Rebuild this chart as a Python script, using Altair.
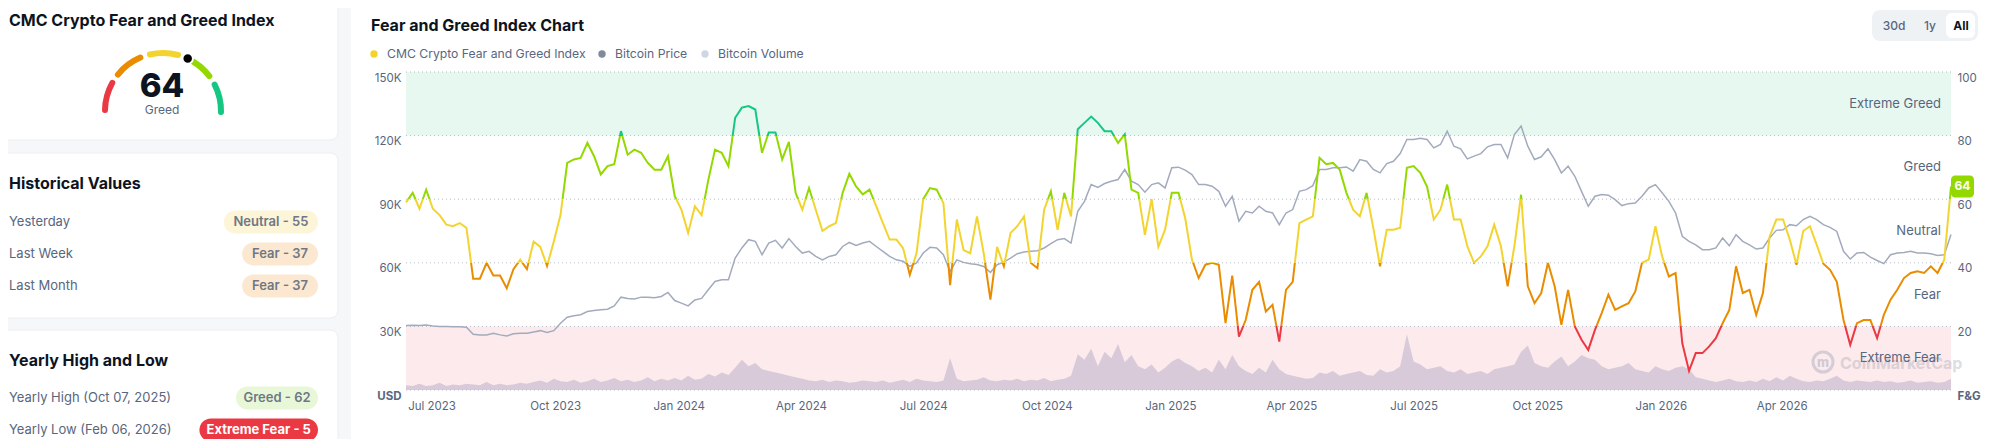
import math
import altair as alt
import pandas as pd

FONT = "Inter"
DARK = "#0d1421"
GRAY = "#58667e"
C_EF, C_F, C_N, C_G, C_EG = "#ea3943", "#ea8c00", "#f3d42f", "#93d900", "#16c784"

# ---------------- data ----------------
start_date = "2023-06-12"
step_days = 5

fg_values = [
    59, 62, 57, 63, 57, 55, 52, 51.5, 52.5, 51,
    35, 35, 40, 36, 36, 32, 38, 41, 38, 46.7,
    45, 39, 46.7, 55, 71.4, 72.5, 73, 77.7, 73.5, 67.8,
    70.4, 71, 81.4, 74, 75.6, 74.6, 71.4, 69.3, 69.3, 73.5,
    61, 56.7, 49.4, 57.8, 55, 66, 75.6, 74.6, 70.4, 85.6,
    88.8, 89.3, 88.2, 74.6, 81, 81, 72.5, 78, 62, 56.7,
    63.5, 56.7, 50, 51.5, 52.5, 62, 68, 64, 61.5, 63,
    57.8, 52.5, 47.3, 47.3, 44.6, 36.2, 43, 60, 63.5, 63,
    58.8, 33, 53.6, 44, 43, 54.6, 43, 28.4, 45, 38.9,
    49.4, 51.5, 54.6, 40, 38.3, 56.7, 62.5, 50.4, 62, 54.6,
    82, 84, 86, 84, 81.4, 81.4, 77.7, 80.4, 63, 62,
    48.8, 60, 45, 50.4, 62, 62, 54, 41, 35.2, 39.4,
    40, 39.4, 21, 36, 16.8, 22, 31.5, 34, 24.7, 26.8,
    15.2, 31.5, 34, 52.5, 53.6, 54.6, 73, 71, 71.4, 69.3,
    62, 56.7, 54.6, 62, 51, 38.9, 50.4, 50.4, 51, 69.9,
    70.4, 68.3, 64, 53.6, 56.7, 64.6, 53.6, 53.6, 45.2, 40,
    42, 45.2, 52, 45.2, 32.6, 45.2, 61.4, 32.6, 27.3, 30.5,
    40, 32.6, 20.5, 31.5, 20, 15.8, 12.6, 18.9, 24.2, 30,
    25.2, 26.3, 27.3, 31, 40, 41, 51.5, 42, 35.7, 36.8,
    14.7, 6, 11.6, 11.6, 13.7, 16.3, 21, 25.2, 38.9, 30.5,
    31.5, 23.6, 30.5, 48.3, 53.6, 53.6, 47.3, 39.4, 50, 51.5,
    45.7, 39.7, 37.8, 34, 22, 14.2, 21, 22, 22, 16.3,
    23.6, 28.4, 31.5, 35.2, 36.8, 37.3, 36.8, 38.9, 36.8, 41,
    64,
]

btc_price_k = [
    30.4, 30.6, 30.4, 30.7, 30.2, 29.9, 29.9, 29.8, 29.8, 29.6,
    26.3, 26, 26, 26.8, 26, 25.5, 26.5, 26.8, 26.8, 27.4,
    28, 27.1, 28, 31.5, 34.3, 35, 35.5, 37, 37.5, 37.8,
    38.1, 39.7, 43.8, 43.2, 42.9, 43.8, 43.8, 43.5, 44.1, 46,
    42.2, 41, 39.7, 42.5, 43.2, 47.3, 51.2, 52, 52, 62.2,
    67, 70.9, 70.1, 63.8, 69.3, 70.6, 67, 71.4, 67.7, 64.6,
    65.4, 63, 61.4, 63, 63.8, 67.7, 69.6, 68.2, 69.3, 70.1,
    67.7, 65.4, 63, 61.4, 60.7, 58.3, 59.9, 64.6, 67.3, 67,
    63.8, 55.9, 61.4, 60.2, 59.6, 59.2, 58.3, 55.5, 59.1, 60.3,
    62.2, 64.3, 65.1, 65.4, 65.7, 67, 69, 70.9, 71.4, 69.3,
    84.3, 89, 96.9, 95.6, 97.4, 98.5, 99.3, 104, 98.5, 96.9,
    93.3, 96.9, 97.7, 95.3, 104.8, 105.1, 103.7, 101.6, 96.9, 96.9,
    96.1, 93.7, 86.7, 91.4, 79.6, 84.3, 83.5, 86.7, 84.3, 83.5,
    78, 83.5, 85.1, 93.7, 94.5, 96.4, 104, 104, 104.8, 104.8,
    105.2, 103.2, 108.7, 107.9, 104, 102.4, 106.8, 107.9, 111.5, 118.2,
    118.2, 118.8, 118.2, 114.2, 115.8, 122.1, 115, 113.8, 109, 110.3,
    111.5, 114.7, 115.8, 115.8, 109.5, 120.5, 124.5, 115, 108.7, 110,
    113.8, 108.7, 102.4, 105.6, 100.8, 93.7, 86.7, 91.4, 92.2, 91.9,
    89.8, 87, 87.9, 88.2, 91.4, 95.3, 96.9, 93, 89, 83.5,
    72.5, 70.1, 68.5, 66.2, 66.2, 67, 71.7, 68, 73.3, 70.1,
    68.5, 66.5, 67, 71.7, 75.3, 75.6, 78, 77.5, 80.4, 81.9,
    80.4, 78, 76.7, 74.8, 65.4, 61.8, 64.6, 64.9, 62.7, 61.1,
    59.6, 63.8, 64.6, 64.9, 65.4, 64.6, 64.6, 64.3, 63.5, 63.8,
    73.3,
]

btc_volume_b = [
    6, 5, 8, 5, 6, 9, 5, 7, 6, 8,
    7, 6, 10, 6, 8, 6, 7, 9, 8, 10,
    12, 9, 14, 11, 10, 13, 9, 11, 14, 10,
    12, 15, 11, 13, 10, 12, 16, 11, 14, 12,
    15, 12, 18, 13, 14, 20, 17, 22, 19, 28,
    38, 30, 34, 26, 24, 22, 20, 18, 16, 14,
    12, 11, 13, 10, 12, 11, 9, 10, 12, 11,
    10, 12, 9, 11, 13, 10, 14, 12, 11, 10,
    12, 40, 14, 11, 12, 13, 16, 12, 11, 13,
    12, 14, 11, 13, 12, 15, 11, 13, 14, 18,
    45, 38, 52, 30, 48, 40, 58, 35, 44, 30,
    26, 32, 22, 28, 36, 40, 34, 30, 24, 28,
    22, 38, 26, 44, 30, 24, 20, 28, 22, 38,
    26, 20, 18, 16, 14, 15, 22, 20, 24, 18,
    20, 22, 24, 19, 18, 26, 22, 24, 30, 70,
    36, 32, 26, 28, 30, 24, 22, 26, 20, 22,
    24, 20, 26, 28, 30, 32, 48, 56, 34, 30,
    28, 36, 42, 30, 36, 44, 40, 38, 30, 26,
    28, 30, 34, 26, 24, 22, 30, 26, 24, 28,
    30, 26, 16, 14, 12, 10, 12, 14, 11, 10,
    12, 10, 14, 11, 16, 12, 18, 14, 11, 10,
    12, 11, 14, 18, 12, 10, 12, 11, 10, 12,
    10, 11, 9, 10, 12, 9, 10, 11, 9, 10,
    14,
]

x_tick_months = [(2023, 7), (2023, 10), (2024, 1), (2024, 4), (2024, 7), (2024, 10),
                 (2025, 1), (2025, 4), (2025, 7), (2025, 10), (2026, 1), (2026, 4)]
zone_names = ["Extreme Greed", "Greed", "Neutral", "Fear", "Extreme Fear"]
zone_mids = [90, 70, 50, 30, 10]
grid_levels = [0, 20, 40, 60, 80, 100]
price_ticks = [0, 30, 60, 90, 120, 150]

current_value = 64
current_class = "Greed"
hist_labels = ["Yesterday", "Last Week", "Last Month"]
hist_class = ["Neutral", "Fear", "Fear"]
hist_vals = [55, 37, 37]
year_labels = ["Yearly High (Oct 07, 2025)", "Yearly Low (Feb 06, 2026)"]
year_class = ["Greed", "Extreme Fear"]
year_vals = [62, 5]
legend_names = ["CMC Crypto Fear and Greed Index", "Bitcoin Price", "Bitcoin Volume"]
legend_colors = ["#f3d42f", "#808a9d", "#cfd6e4"]
range_buttons = ["30d", "1y", "All"]

# ---------------- frame ----------------
n = min(len(fg_values), len(btc_price_k), len(btc_volume_b))
dates = pd.date_range(start_date, periods=n, freq=f"{step_days}D")
df = pd.DataFrame({"date": dates, "fg": fg_values[:n], "price": btc_price_k[:n], "vol": btc_volume_b[:n]})
first, last = dates[0], dates[-1]

W, H = 1545, 318
PX, PY = 406, 72  # page position of the plot area's top-left corner


def rel(xp, yp):
    return dict(x=alt.value(xp - PX), y=alt.value(yp - PY))


def text_layer(s, xp, yp, size=13, color=GRAY, weight=400, align="left", baseline="middle", opacity=1.0):
    return alt.Chart(pd.DataFrame({"t": [s]})).mark_text(
        align=align, baseline=baseline, font=FONT, fontSize=size, fontWeight=weight,
        color=color, opacity=opacity
    ).encode(text="t:N", **rel(xp, yp))


def rect_layer(x1, y1, x2, y2, fill, radius=0, stroke=None):
    kw = dict(fill=fill, cornerRadius=radius)
    if stroke:
        kw.update(stroke=stroke, strokeWidth=1)
    return alt.Chart(pd.DataFrame({"a": [0]})).mark_rect(**kw).encode(
        x=alt.value(x1 - PX), x2=alt.value(x2 - PX), y=alt.value(y1 - PY), y2=alt.value(y2 - PY)
    )


BADGE_FILL = {"Extreme Fear": C_EF, "Fear": "#fce8d0", "Neutral": "#fdf5d8", "Greed": "#e8f7d8", "Extreme Greed": "#dff6ea"}


def badge(cls, val, yc, right=318):
    s = f"{cls} - {val}"
    w = 6.1 * len(s) + 21
    tc = "white" if cls == "Extreme Fear" else "#6f7787"
    wt = 700 if cls == "Extreme Fear" else 600
    return [rect_layer(right - w, yc - 11.5, right, yc + 11.5, BADGE_FILL[cls], radius=11.5),
            text_layer(s, right - w / 2, yc, size=13, color=tc, weight=wt, align="center")]


layers = []
# page background of left column + cards
layers.append(rect_layer(0, 0, 351, 460, "#f6f7f9"))
layers.append(rect_layer(-10, -10, 338, 140, "white", radius=8, stroke="#eceef2"))
layers.append(rect_layer(-10, 153, 338, 318, "white", radius=8, stroke="#eceef2"))
layers.append(rect_layer(-10, 330, 338, 470, "white", radius=8, stroke="#eceef2"))

# gauge card
layers.append(text_layer("CMC Crypto Fear and Greed Index", 9, 26, size=16, color=DARK, weight=700, baseline="alphabetic"))
GX, GY, GR = 163, 111, 58
gauge_cols = [C_EF, C_F, C_N, C_G, C_EG]
for k, col in enumerate(gauge_cols):
    a0 = -2 + 38 * k
    a1 = a0 + 34
    layers.append(
        alt.Chart(pd.DataFrame({"a": [0]})).mark_arc(color=col, cornerRadius=3).encode(
            theta=alt.value(math.radians(270 + a0)), theta2=alt.value(math.radians(270 + a1)),
            radius=alt.value(GR + 3), radius2=alt.value(GR - 3), **rel(GX, GY)
        )
    )
ang = math.radians(180 - current_value * 1.8)
layers.append(
    alt.Chart(pd.DataFrame({"a": [0]})).mark_circle(size=110, color="black", opacity=1, stroke="white", strokeWidth=2).encode(
        **rel(GX + GR * math.cos(ang), GY - GR * math.sin(ang))
    )
)
layers.append(text_layer(str(current_value), GX - 1, 97, size=33, color=DARK, weight=800, align="center", baseline="alphabetic"))
layers.append(text_layer(current_class, GX - 1, 114, size=12, color=GRAY, align="center", baseline="alphabetic"))

# historical values card
layers.append(text_layer("Historical Values", 9, 189, size=16, color=DARK, weight=700, baseline="alphabetic"))
for i, (lab, cls, v) in enumerate(zip(hist_labels, hist_class, hist_vals)):
    yc = 222 + 32 * i
    layers.append(text_layer(lab, 9, yc, size=13, color=GRAY))
    layers += badge(cls, v, yc)

# yearly card
layers.append(text_layer("Yearly High and Low", 9, 366, size=16, color=DARK, weight=700, baseline="alphabetic"))
for i, (lab, cls, v) in enumerate(zip(year_labels, year_class, year_vals)):
    yc = 398 + 32 * i
    layers.append(text_layer(lab, 9, yc, size=13, color=GRAY))
    layers += badge(cls, v, yc)

# main card header
layers.append(text_layer("Fear and Greed Index Chart", 371, 31, size=16, color=DARK, weight=700, baseline="alphabetic"))
leg_x = [374, 602, 705]
for name, col, lx in zip(legend_names, legend_colors, leg_x):
    layers.append(alt.Chart(pd.DataFrame({"a": [0]})).mark_circle(size=55, color=col, opacity=1).encode(**rel(lx, 54)))
    layers.append(text_layer(name, lx + 13, 54, size=12.2, color=GRAY))
layers.append(rect_layer(1872, 10, 1978, 41, "#eff2f5", radius=8))
layers.append(rect_layer(1946, 13, 1975, 38, "white", radius=6))
for b, bx in zip(range_buttons, [1894, 1930, 1961]):
    sel = b == "All"
    layers.append(text_layer(b, bx, 26, size=12, color=DARK if sel else GRAY, weight=700 if sel else 500, align="center"))

# ---------------- chart layers ----------------
fg_scale = alt.Scale(domain=[0, 100], nice=False, zero=True)
x_enc = alt.X(
    "date:T",
    scale=alt.Scale(domain=[alt.DateTime(year=first.year, month=first.month, date=first.day),
                            alt.DateTime(year=last.year, month=last.month, date=last.day)]),
    axis=alt.Axis(format="%b %Y", values=[alt.DateTime(year=y, month=m, date=1) for y, m in x_tick_months],
                  labelFont=FONT, labelFontSize=11.5, labelColor=GRAY, labelPadding=10,
                  ticks=False, domain=False, grid=False, title=None, labelFlush=False),
)

right_axis = alt.Axis(
    orient="right", values=grid_levels,
    labelExpr="datum.value == 0 ? 'F&G' : datum.value",
    labelFontWeight={"condition": {"test": "datum.value == 0", "value": 700}, "value": 400},
    labelFont=FONT, labelFontSize=11.5, labelColor=GRAY, labelPadding=6, labelBaseline="top",
    ticks=False, domain=False, grid=False, title=None,
)
left_axis = alt.Axis(
    orient="left", values=price_ticks,
    labelExpr="datum.value == 0 ? 'USD' : datum.value + 'K'",
    labelFontWeight={"condition": {"test": "datum.value == 0", "value": 700}, "value": 400},
    labelFont=FONT, labelFontSize=11.5, labelColor=GRAY, labelPadding=5, labelBaseline="top",
    ticks=False, domain=False, grid=False, title=None,
)

bands_df = pd.DataFrame({"lo": [80, 0], "hi": [100, 20], "zone": ["Extreme Greed", "Extreme Fear"]})
bands = alt.Chart(bands_df).mark_rect().encode(
    x=alt.value(0), x2=alt.value(W),
    y=alt.Y("lo:Q", scale=fg_scale, axis=right_axis), y2="hi:Q",
    color=alt.Color("zone:N", scale=alt.Scale(domain=["Extreme Greed", "Extreme Fear"], range=["#e7f8f0", "#fdeaec"]), legend=None),
)
grid = alt.Chart(pd.DataFrame({"g": grid_levels})).mark_rule(strokeDash=[1, 3], color="#b4bcc8", strokeWidth=1).encode(
    y=alt.Y("g:Q", scale=fg_scale, axis=None)
)
vol = alt.Chart(df).mark_area(color="#cbbfd1", opacity=0.75).encode(
    x=x_enc, y=alt.Y("vol:Q", scale=alt.Scale(domain=[0, 400], nice=False), axis=None)
)
watermark = [
    alt.Chart(pd.DataFrame({"a": [0]})).mark_point(shape="circle", filled=False, size=400, strokeWidth=3, color="#9aa3b3", opacity=0.4).encode(**rel(1823, 362)),
    text_layer("m", 1823, 363, size=13, color="#9aa3b3", weight=800, align="center", opacity=0.45),
    text_layer("CoinMarketCap", 1840, 369, size=16, color="#9aa3b3", weight=700, baseline="alphabetic", opacity=0.35),
]
price = alt.Chart(df).mark_line(color="#a2abbd", strokeWidth=1.5).encode(
    x=x_enc, y=alt.Y("price:Q", scale=alt.Scale(domain=[0, 150], nice=False), axis=left_axis)
)

vmax, vmin = max(df["fg"]), min(df["fg"])


def off(v):
    return min(1.0, max(0.0, (vmax - v) / (vmax - vmin)))


stops = [(0, C_EG), (off(80), C_EG), (off(80), C_G), (off(60), C_G), (off(60), C_N),
         (off(40), C_N), (off(40), C_F), (off(20), C_F), (off(20), C_EF), (1, C_EF)]
grad = alt.LinearGradient(gradient="linear", x1=0, x2=0, y1=0, y2=1,
                          stops=[alt.GradientStop(offset=o, color=c) for o, c in stops])
fg_line = alt.Chart(df).mark_line(stroke=grad, strokeWidth=2).encode(
    x=x_enc, y=alt.Y("fg:Q", scale=fg_scale, axis=None)
)
zones = alt.Chart(pd.DataFrame({"label": zone_names, "mid": zone_mids})).mark_text(
    align="right", baseline="middle", font=FONT, fontSize=13, color=GRAY
).encode(x=alt.value(W - 10), y=alt.Y("mid:Q", scale=fg_scale, axis=None), text="label:N")

last_fg = df["fg"].iloc[-1]
yb = PY + H * (1 - last_fg / 100)
cur_badge = rect_layer(PX + W, yb - 11, PX + W + 23, yb + 11, C_G, radius=4)
cur_text = alt.Chart(pd.DataFrame({"v": [last_fg]})).mark_text(
    align="center", baseline="middle", font=FONT, fontSize=12, fontWeight=700, color="white"
).encode(x=alt.value(W + 11.5), y=alt.Y("v:Q", scale=fg_scale, axis=None), text=alt.Text("v:Q", format="d"))

chart = alt.layer(
    *layers, bands, grid, vol, *watermark, price, fg_line, zones, cur_badge, cur_text
).resolve_scale(y="independent").properties(
    width=W, height=H, autosize="none",
    padding={"left": PX - 8, "top": PY - 8, "right": 1976 - (PX - 8) - W, "bottom": 431 - (PY - 8) - H},
).configure(background="white").configure_view(stroke=None)

chart.save("out.html", embed_options={"renderer": "svg", "actions": False})
